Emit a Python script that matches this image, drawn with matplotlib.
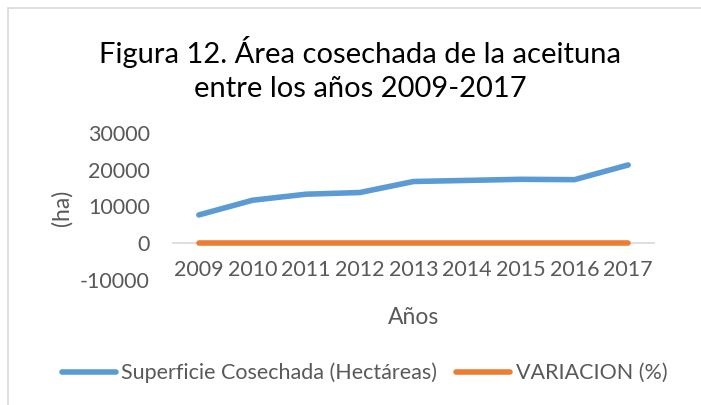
import matplotlib
matplotlib.use("Agg")
import matplotlib.pyplot as plt
from matplotlib.patches import Rectangle

years = ["2009", "2010", "2011", "2012", "2013", "2014", "2015", "2016", "2017"]
superficie = [7700, 11700, 13350, 13800, 16800, 17100, 17400, 17300, 21300]
variacion = [0, 0, 0, 0, 0, 0, 0, 0, 0]
yticks = [-10000, 0, 10000, 20000, 30000]

plt.rcParams['font.family'] = ['Lato', 'DejaVu Sans']
gray = '#595959'
W, H = 701, 405

fig = plt.figure(figsize=(W / 100, H / 100), dpi=100)
fig.patches.append(Rectangle((8 / W, -0.1), 1.2, (H - 8) / H + 0.1, transform=fig.transFigure,
                             fill=False, edgecolor='#d9d9d9', linewidth=1.2))

ax = fig.add_axes([172 / W, (H - 280) / H, (655 - 172) / W, (280 - 133) / H])
x = list(range(len(years)))
ax.plot(x, superficie, color='#5b9bd5', linewidth=4, solid_capstyle='round',
        label='Superficie Cosechada (Hectáreas)', zorder=3)
ax.plot(x, variacion, color='#ed7d31', linewidth=4, solid_capstyle='round',
        label='VARIACION (%)', zorder=4)
ax.axhline(0, color='#d9d9d9', linewidth=1.2, zorder=1)
ax.set_xlim(-0.5, len(years) - 0.5)
ax.set_ylim(yticks[0], yticks[-1])
ax.set_yticks(yticks)
ax.set_yticklabels([str(v) for v in yticks])
ax.set_xticks(x)
ax.set_xticklabels(years)
ax.spines['bottom'].set_position(('data', 0))
for s in ax.spines.values():
    s.set_visible(False)
ax.tick_params(length=0, colors=gray, labelsize=15.5)
ax.tick_params(axis='y', pad=16)
ax.tick_params(axis='x', pad=12)
ax.set_ylabel('(ha)', color=gray, fontsize=16.5)
ax.yaxis.set_label_coords((73 - 172) / (655 - 172), 0.49)

fig.text(360 / W, (H - 97) / H, 'Figura 12. Área cosechada de la aceituna\nentre los años 2009-2017',
         ha='center', va='baseline', fontsize=21, color='black', linespacing=1.38)
fig.text(413.5 / W, (H - 318) / H, 'Años', ha='center', va='center', fontsize=16.5, color=gray)

leg = fig.legend(loc='center', bbox_to_anchor=(364.5 / W, (H - 373) / H), ncol=2, frameon=False,
                 fontsize=15.5, handlelength=2.5, handletextpad=0.25, columnspacing=0.9,
                 labelcolor=gray, borderpad=0, borderaxespad=0)
fig.savefig('out.png', dpi=100)
